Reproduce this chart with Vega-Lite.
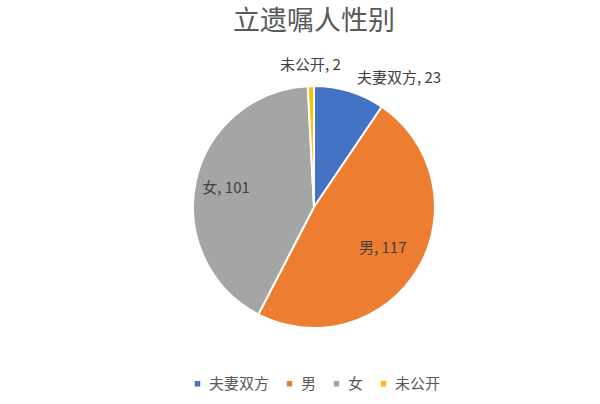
{
  "$schema": "https://vega.github.io/schema/vega-lite/v6.json",
  "width": 572,
  "height": 294,
  "autosize": "none",
  "padding": {"left": 28, "top": 60, "right": 0, "bottom": 50},
  "background": "white",
  "config": {
    "view": {"stroke": null},
    "font": "Noto Sans CJK SC"
  },
  "title": {
    "text": "立遗嘱人性别",
    "fontSize": 27,
    "fontWeight": "normal",
    "color": "#595959",
    "anchor": "middle",
    "offset": 22
  },
  "data": {
    "values": [
      {"gender": "夫妻双方", "count": 23},
      {"gender": "男", "count": 117},
      {"gender": "女", "count": 101},
      {"gender": "未公开", "count": 2}
    ]
  },
  "transform": [
    {"window": [{"op": "row_number", "as": "idx"}]}
  ],
  "encoding": {
    "theta": {"field": "count", "type": "quantitative", "stack": true},
    "order": {"field": "idx", "type": "quantitative"},
    "color": {
      "field": "gender",
      "type": "nominal",
      "sort": ["夫妻双方", "男", "女", "未公开"],
      "scale": {
        "domain": ["夫妻双方", "男", "女", "未公开"],
        "range": ["#4472C4", "#ED7D31", "#A5A5A5", "#FFC000"]
      },
      "legend": {
        "orient": "none",
        "legendX": 162,
        "legendY": 316,
        "direction": "horizontal",
        "title": null,
        "symbolType": "square",
        "symbolSize": 30,
        "symbolStrokeWidth": 0,
        "labelFontSize": 15,
        "labelColor": "#595959",
        "columnPadding": 12
      }
    }
  },
  "layer": [
    {
      "mark": {"type": "arc", "radius": 121, "stroke": "white", "strokeWidth": 2}
    },
    {
      "mark": {"type": "text", "radius": 80, "fontSize": 15},
      "encoding": {
        "color": {"value": "#404040"},
        "text": {"condition": {"test": "datum.gender == '男'", "value": "男, 117"}, "value": ""}
      }
    },
    {
      "mark": {"type": "text", "radius": 90, "fontSize": 15},
      "encoding": {
        "color": {"value": "#404040"},
        "text": {"condition": {"test": "datum.gender == '女'", "value": "女, 101"}, "value": ""}
      }
    },
    {
      "mark": {"type": "text", "radius": 142, "fontSize": 15},
      "encoding": {
        "color": {"value": "#404040"},
        "text": {"condition": {"test": "datum.gender == '未公开'", "value": "未公开, 2"}, "value": ""}
      }
    },
    {
      "mark": {"type": "text", "radius": 140, "fontSize": 15, "align": "left", "dx": 2, "dy": 5},
      "encoding": {
        "color": {"value": "#404040"},
        "text": {"condition": {"test": "datum.gender == '夫妻双方'", "value": "夫妻双方, 23"}, "value": ""}
      }
    }
  ]
}
